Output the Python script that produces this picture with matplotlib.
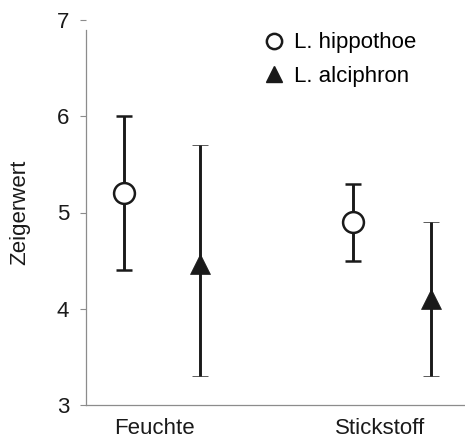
import numpy as np
import matplotlib.pyplot as plt
from matplotlib.lines import Line2D

# ==============================================================
# data (Zeigerwert means with range)
groups = ["Feuchte", "Stickstoff"]
hippo_mean = [5.2, 4.9]
hippo_low = [4.4, 4.5]
hippo_high = [6.0, 5.3]
alci_mean = [4.47, 4.1]
alci_low = [3.3, 3.3]
alci_high = [5.7, 4.9]

# ==============================================================
# layout
plt.rcParams['font.family'] = ['Liberation Sans', 'DejaVu Sans']
FIGWIDTH = 4.65
FIGHEIGHT = 4.38
AXCOLOR = "#8c8c8c"
INK = "#1a1a1a"

hippo_x = [1.0, 7.05]
alci_x = [3.0, 9.1]
label_x = [1.8, 7.75]

f = plt.figure(figsize=(FIGWIDTH, FIGHEIGHT), dpi=100)
ax = f.add_axes([86/465, 1 - 405/438, 1 - 86/465, (405 - 20)/438])

hm = np.array(hippo_mean)
am = np.array(alci_mean)
ax.errorbar(hippo_x, hm, yerr=[hm - np.array(hippo_low), np.array(hippo_high) - hm],
            fmt='o', ms=15, mfc='white', mec=INK, mew=1.8, ecolor=INK,
            elinewidth=2.1, capsize=6, capthick=2.1, zorder=3)
ax.errorbar(alci_x, am, yerr=[am - np.array(alci_low), np.array(alci_high) - am],
            fmt='^', ms=15, mfc=INK, mec=INK, mew=0.5, ecolor=INK,
            elinewidth=2.1, capsize=6, capthick=2.1, zorder=3)

ax.set_xlim(0, 10)
ax.set_ylim(3, 7)
ax.set_yticks([3, 4, 5, 6, 7])
ax.set_xticks(label_x)
ax.set_xticklabels(groups, fontsize=16, color=INK)
ax.tick_params(axis='x', length=0, pad=9)
ax.tick_params(axis='y', length=4, width=0.8, color=AXCOLOR, labelsize=16,
               labelcolor=INK, pad=8)
ax.set_ylabel("Zeigerwert", fontsize=16, color=INK, labelpad=19)

for side in ["top", "right"]:
    ax.spines[side].set_visible(False)
for side in ["left", "bottom"]:
    ax.spines[side].set_color(AXCOLOR)
    ax.spines[side].set_linewidth(0.9)
ax.spines["left"].set_bounds(3, 6.9)

handles = [
    Line2D([], [], ls='none', marker='o', ms=11, mfc='white', mec=INK, mew=1.8),
    Line2D([], [], ls='none', marker='^', ms=12, mfc=INK, mec=INK),
]
ax.legend(handles, ["L. hippothoe", "L. alciphron"], loc='upper left',
          bbox_to_anchor=(0.42, 1.02), frameon=False, fontsize=16,
          handlelength=0.8, handletextpad=0.5, labelspacing=0.55)

f.savefig("out.png", dpi=100)
